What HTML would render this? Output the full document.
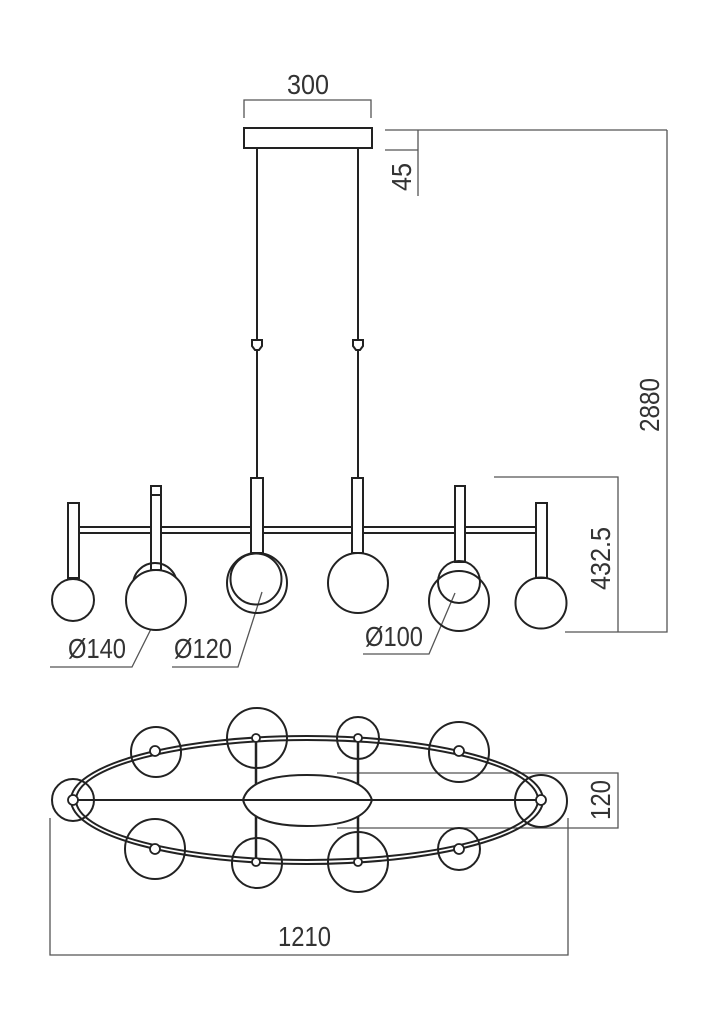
<!DOCTYPE html>
<html><head><meta charset="utf-8"><style>
html,body{margin:0;padding:0;background:#fff;}
svg{display:block;}
text{font-family:"Liberation Sans",sans-serif;fill:#333;font-size:28px;}
</style></head><body>
<svg width="717" height="1024" viewBox="0 0 717 1024" xmlns="http://www.w3.org/2000/svg">
<g fill="none" stroke="#555" stroke-width="1.3">
  <!-- 300 dim -->
  <polyline points="244,118 244,100 371,100 371,118"/>
  <!-- 45 dim -->
  <line x1="385" y1="130" x2="667" y2="130"/>
  <line x1="385" y1="150" x2="418" y2="150"/>
  <line x1="418" y1="130" x2="418" y2="196"/>
  <!-- 2880 -->
  <polyline points="667,130 667,632 565,632"/>
  <!-- 432.5 -->
  <polyline points="494,477 618,477 618,632"/>
  <!-- leaders -->
  <polyline points="50,667 132,667 157,617"/>
  <polyline points="172,667 238,667 262,592"/>
  <polyline points="363,654 429,654 455,593"/>
  <!-- 120 -->
  <polyline points="337,773 618,773 618,828 337,828"/>
  <!-- 1210 -->
  <polyline points="50,818 50,955 568,955 568,818"/>
</g>
<g fill="none" stroke="#222" stroke-width="2">
  <!-- canopy -->
  <rect x="244" y="128" width="128" height="20"/>
  <line x1="257" y1="148" x2="257" y2="340"/>
  <line x1="358" y1="148" x2="358" y2="340"/>
  <path d="M252,340 h10 v6 l-3,4 h-4 l-3,-4 z"/>
  <path d="M353,340 h10 v6 l-3,4 h-4 l-3,-4 z"/>
  <line x1="257" y1="350" x2="257" y2="478"/>
  <line x1="358" y1="350" x2="358" y2="478"/>
  <!-- bar -->
  <line x1="73" y1="527" x2="545" y2="527"/>
  <line x1="73" y1="533" x2="545" y2="533"/>
  <!-- stems -->
  <rect x="68" y="503" width="11" height="75" fill="#fff"/>
  <rect x="151" y="486" width="10" height="84" fill="#fff"/>
  <line x1="151" y1="495" x2="161" y2="495"/>
  <rect x="251" y="478" width="12" height="75" fill="#fff"/>
  <rect x="352" y="478" width="11" height="75" fill="#fff"/>
  <rect x="455" y="486" width="10" height="76" fill="#fff"/>
  <rect x="536" y="503" width="11" height="75" fill="#fff"/>
  <!-- balls -->
  <circle cx="73" cy="600" r="21"/>
  <circle cx="155" cy="585" r="22"/>
  <circle cx="156" cy="600" r="30" fill="#fff"/>
  <circle cx="257" cy="583" r="30"/>
  <circle cx="256" cy="579" r="25.5"/>
  <circle cx="358" cy="583" r="30"/>
  <circle cx="459" cy="601" r="30"/>
  <circle cx="459" cy="582" r="21"/>
  <circle cx="541" cy="603" r="25.5"/>
  <!-- bottom view -->
  <circle cx="73" cy="800" r="21"/>
  <circle cx="156" cy="752" r="25"/>
  <circle cx="257" cy="738" r="30"/>
  <circle cx="358" cy="738" r="21"/>
  <circle cx="459" cy="752" r="30"/>
  <circle cx="541" cy="801" r="26"/>
  <circle cx="155" cy="849" r="30"/>
  <circle cx="257" cy="863" r="25"/>
  <circle cx="358" cy="862" r="30"/>
  <circle cx="459" cy="849" r="21"/>
  <ellipse cx="307" cy="800" rx="236" ry="64"/>
  <ellipse cx="307" cy="800" rx="231" ry="60"/>
  <line x1="73" y1="800" x2="541" y2="800"/>
  <line x1="256" y1="738" x2="256" y2="862" stroke-width="2.5"/>
  <line x1="358" y1="738" x2="358" y2="862" stroke-width="2.5"/>
  <path d="M243,800 Q250,775 307,775 Q364,775 372,800 Q364,826 307,826 Q250,826 243,800 Z" fill="#fff"/>
  <line x1="243" y1="800" x2="372" y2="800"/>
  <g fill="#fff" stroke-width="1.8">
    <circle cx="73" cy="800" r="5"/><circle cx="155" cy="751" r="5"/><circle cx="256" cy="738" r="4"/><circle cx="358" cy="738" r="4"/><circle cx="459" cy="751" r="5"/><circle cx="541" cy="800" r="5"/><circle cx="155" cy="849" r="5"/><circle cx="256" cy="862" r="4"/><circle cx="358" cy="862" r="4"/><circle cx="459" cy="849" r="5"/>
  </g>
</g>
<text x="287" y="94" textLength="42" lengthAdjust="spacingAndGlyphs">300</text>
<text x="68" y="658" textLength="58" lengthAdjust="spacingAndGlyphs">Ø140</text>
<text x="174" y="658" textLength="58" lengthAdjust="spacingAndGlyphs">Ø120</text>
<text x="365" y="646" textLength="58" lengthAdjust="spacingAndGlyphs">Ø100</text>
<text x="278" y="946" textLength="53" lengthAdjust="spacingAndGlyphs">1210</text>
<text transform="translate(411,191) rotate(-90)" textLength="28" lengthAdjust="spacingAndGlyphs">45</text>
<text transform="translate(659,432) rotate(-90)" textLength="54" lengthAdjust="spacingAndGlyphs">2880</text>
<text transform="translate(610,590) rotate(-90)" textLength="63" lengthAdjust="spacingAndGlyphs">432.5</text>
<text transform="translate(610,820) rotate(-90)" textLength="40" lengthAdjust="spacingAndGlyphs">120</text>
</svg>
</body></html>
